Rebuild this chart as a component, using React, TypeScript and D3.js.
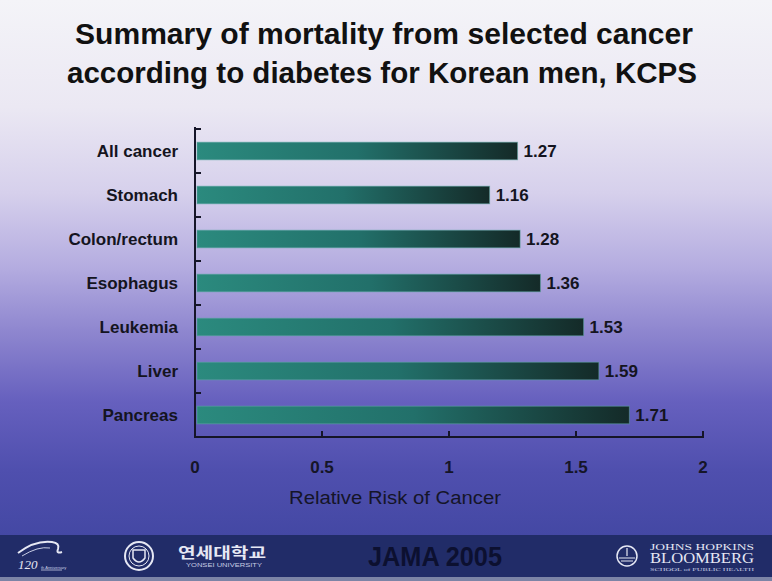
import React from "react";
import * as d3 from "d3";

const categories = ["All cancer", "Stomach", "Colon/rectum", "Esophagus", "Leukemia", "Liver", "Pancreas"];
const values = [1.27, 1.16, 1.28, 1.36, 1.53, 1.59, 1.71];
const xTicks = [0, 0.5, 1, 1.5, 2];
const titleLines = ["Summary of mortality from  selected cancer", "according to diabetes for Korean men, KCPS"];
const xTitle = "Relative Risk of Cancer";
const footerText = "JAMA 2005";

const W = 772;
const H = 581;
const FONT = "'Liberation Sans', Arial, Helvetica, sans-serif";

export default function App() {
  const x = d3.scaleLinear().domain([0, 2]).range([195, 703]);
  const y = d3
    .scaleBand<string>()
    .domain(categories)
    .range([129, 437])
    .paddingInner(0.6)
    .paddingOuter(0.3);
  const step = y.step();
  const bw = y.bandwidth();
  const gap = (step - bw) / 2;
  const yBoundaries = categories.map((c) => (y(c) as number) - gap);

  return (
    <svg
      width={W}
      height={H}
      viewBox={`0 0 ${W} ${H}`}
      style={{ position: "fixed", left: 0, top: 0, display: "block" }}
      fontFamily={FONT}
    >
      <defs>
        <linearGradient id="bg" x1="0" y1="0" x2="0" y2="1">
          <stop offset="0" stopColor="#f4f4f8" />
          <stop offset="0.2" stopColor="#ebe8f3" />
          <stop offset="0.36" stopColor="#d6d0ec" />
          <stop offset="0.5" stopColor="#b4ace0" />
          <stop offset="0.62" stopColor="#8e86cf" />
          <stop offset="0.75" stopColor="#6660be" />
          <stop offset="0.88" stopColor="#4f4fae" />
          <stop offset="1" stopColor="#4448a4" />
        </linearGradient>
        <linearGradient id="bar" x1="0" y1="0" x2="1" y2="0">
          <stop offset="0" stopColor="#2b8a7e" />
          <stop offset="0.5" stopColor="#22706a" />
          <stop offset="1" stopColor="#142a28" />
        </linearGradient>
      </defs>

      <rect x={0} y={0} width={W} height={535} fill="url(#bg)" />
      <rect x={0} y={535} width={W} height={42} fill="#212c68" />
      <rect x={0} y={577} width={W} height={4} fill="#7c84a6" />

      {/* Title */}
      {titleLines.map((t, i) => (
        <text
          key={i}
          x={i === 0 ? 75 : 67}
          y={i === 0 ? 44 : 83}
          fontSize={29}
          fontWeight="bold"
          fill="#111111"
          textLength={i === 0 ? 618 : 630}
          lengthAdjust="spacingAndGlyphs"
        >
          {t}
        </text>
      ))}

      {/* Bars */}
      {categories.map((c, i) => (
        <g key={c}>
          <rect
            x={x(0) + 2}
            y={y(c) as number}
            width={x(values[i]) - x(0) - 2}
            height={bw}
            fill="url(#bar)"
            stroke="#5fa7a4"
            strokeOpacity={0.55}
            strokeWidth={1}
          />
          <text
            x={x(values[i]) + 6}
            y={(y(c) as number) + bw / 2 + 6}
            fontSize={17}
            fontWeight="bold"
            fill="#141420"
          >
            {values[i].toFixed(2)}
          </text>
          <text
            x={178}
            y={(y(c) as number) + bw / 2 + 6}
            fontSize={17}
            fontWeight="bold"
            fill="#141420"
            textAnchor="end"
          >
            {c}
          </text>
        </g>
      ))}

      {/* Y axis */}
      <line x1={x(0)} x2={x(0)} y1={127} y2={437} stroke="#151528" strokeWidth={2} />
      {yBoundaries.map((yy, i) => (
        <line key={i} x1={x(0)} x2={x(0) + 6} y1={yy} y2={yy} stroke="#151528" strokeWidth={2} />
      ))}

      {/* X axis */}
      <line x1={x(0) - 1} x2={x(2) + 1} y1={437} y2={437} stroke="#151528" strokeWidth={2} />
      {xTicks.map((t) => (
        <g key={t}>
          <line x1={x(t)} x2={x(t)} y1={437} y2={431} stroke="#151528" strokeWidth={2} />
          <text x={x(t)} y={473} fontSize={17} fontWeight="bold" fill="#151528" textAnchor="middle">
            {String(t)}
          </text>
        </g>
      ))}
      <text x={395} y={504} fontSize={18} fill="#151528" textAnchor="middle" textLength={212} lengthAdjust="spacingAndGlyphs">
        {xTitle}
      </text>

      {/* Footer */}
      <text x={435} y={566} fontSize={28} fontWeight="bold" fill="#0c1030" textAnchor="middle" textLength={134} lengthAdjust="spacingAndGlyphs">
        {footerText}
      </text>

      {/* Left logo: 120th anniversary */}
      <path d="M18 553 Q35 540 52 542 Q60 543 58 549 Q56 554 62 552" fill="none" stroke="#e6e8f4" strokeWidth={2} />
      <path d="M22 556 Q38 546 50 548" fill="none" stroke="#c8cce4" strokeWidth={1} />
      <text x={18} y={569} fontSize={13} fontStyle="italic" fontFamily="'Liberation Serif', serif" fill="#e6e8f4">120</text>
      <text x={41} y={569} fontSize={4} fill="#c8cce4">th Anniversary</text>
      <line x1={41} x2={62} y1={570} y2={570} stroke="#c8cce4" strokeWidth={0.8} />

      {/* Yonsei emblem */}
      <circle cx={139} cy={556} r={14} fill="none" stroke="#e6e8f4" strokeWidth={2} />
      <circle cx={139} cy={556} r={10} fill="none" stroke="#e6e8f4" strokeWidth={1} />
      <path d="M133 550 L145 550 L145 558 Q139 566 133 558 Z" fill="none" stroke="#e6e8f4" strokeWidth={1.5} />
      <text x={178} y={558} fontSize={15} fontWeight="bold" fill="#e6e8f4" fontFamily="'Noto Sans CJK KR', sans-serif" textLength={88} lengthAdjust="spacingAndGlyphs">연세대학교</text>
      <text x={186} y={567} fontSize={4.5} fill="#c8cce4" textLength={76} lengthAdjust="spacingAndGlyphs">YONSEI UNIVERSITY</text>

      {/* Johns Hopkins Bloomberg */}
      <circle cx={627} cy={556} r={10} fill="none" stroke="#e6e8f4" strokeWidth={1.5} />
      <path d="M619 558 L635 558 M621 561 L633 561 M627 548 L627 556" stroke="#e6e8f4" strokeWidth={1.2} />
      <text x={650} y={550} fontSize={8} fill="#e6e8f4" fontFamily="'Liberation Serif', serif" textLength={104} lengthAdjust="spacingAndGlyphs">JOHNS HOPKINS</text>
      <text x={650} y={563} fontSize={14} fill="#e6e8f4" fontFamily="'Liberation Serif', serif" textLength={104} lengthAdjust="spacingAndGlyphs">BLOOMBERG</text>
      <text x={650} y={571} fontSize={5} fill="#c8cce4" fontFamily="'Liberation Serif', serif" textLength={104} lengthAdjust="spacingAndGlyphs">SCHOOL of PUBLIC HEALTH</text>
    </svg>
  );
}
